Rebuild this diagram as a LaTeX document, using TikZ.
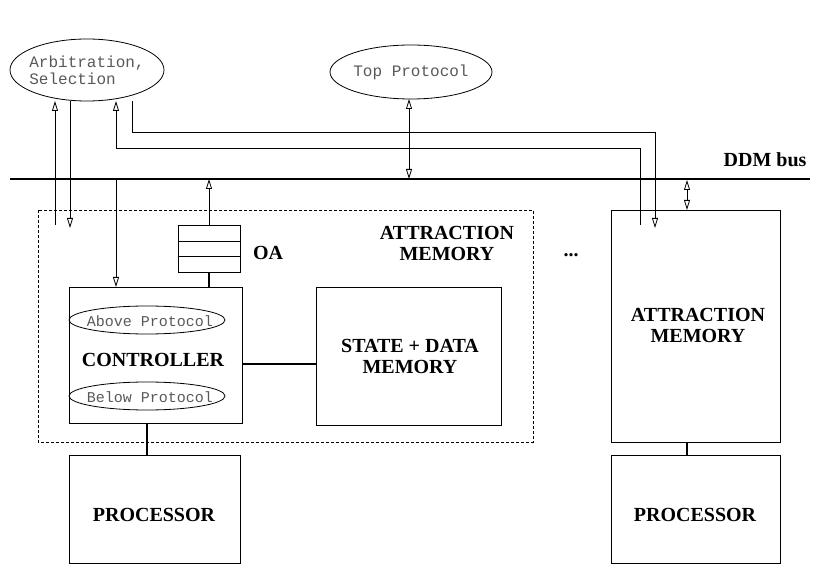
\documentclass[tikz,border=0pt]{standalone}
\usepackage{fontspec}
\setmainfont{Liberation Serif}
\setmonofont{Liberation Mono}
\usetikzlibrary{arrows.meta}

\begin{document}
\begin{tikzpicture}[%
      x=1pt, y=-1pt,
      lbl/.style={font=\fontsize{20}{21}\selectfont\bfseries, align=center},
      tt/.style={font=\fontsize{16}{17}\selectfont\ttfamily, text=black!65, align=left, inner sep=0pt},
      sig/.style={thick, -{Triangle[open,length=10pt,width=6pt]}},
      both/.style={thick, {Triangle[open,length=10pt,width=6pt]}-{Triangle[open,length=10pt,width=6pt]}},
      ]
      \useasboundingbox (0,0) rectangle (820,577);
      % bus
      \draw [line width=2.5pt] (10,179) coordinate (busL) -- (810,179) coordinate (busR);
      \node [lbl, anchor=east] (busname) at (810,160) {DDM bus};

      % protocol ellipses
      \draw [thick] (87,70) ellipse (77 and 31);
      \node [tt] (arb) at (87,70) {Arbitration,\\Selection};
      \draw [thick] (411,72) ellipse (81 and 27);
      \node [tt] (top) at (411,72) {Top Protocol};

      % attraction memory (left)
      \draw [thick, densely dashed] (38,210) rectangle (533,442);
      \node [lbl] (amname) at (447,243) {ATTRACTION\\MEMORY};
      \draw [thick] (178,225) rectangle (240,272);
      \draw [thick] (178,241) -- (240,241);
      \draw [thick] (178,256) -- (240,256);
      \coordinate (oatop) at (209,225);
      \coordinate (oabot) at (209,272);
      \node [lbl] (oa) at (268,253) {OA};

      \draw [thick] (69,287) rectangle (242,423);
      \coordinate (ctrltop) at (209,287);
      \draw [thick] (147,320) ellipse (78 and 14);
      \node [tt, font=\fontsize{15}{16}\selectfont\ttfamily] (above) at (150,321) {Above Protocol};
      \node [lbl] (ctrl) at (153,360) {CONTROLLER};
      \draw [thick] (147,396) ellipse (78 and 14);
      \node [tt, font=\fontsize{15}{16}\selectfont\ttfamily] (below) at (150,397) {Below Protocol};

      \draw [thick] (316,287) rectangle (501,425);
      \node [lbl] (state) at (410,356) {STATE + DATA\\MEMORY};
      \draw [line width=2pt] (242,364) -- (316,364);

      \draw [thick] (69,455) rectangle (240,563);
      \node [lbl] (proc1) at (154,515) {PROCESSOR};
      \draw [line width=2pt] (147,423) -- (147,455);

      \node [lbl] (dots) at (571,255) {...};

      % attraction memory (right)
      \draw [thick] (611,210) rectangle (780,442);
      \node [lbl] (am2) at (698,325) {ATTRACTION\\MEMORY};
      \draw [thick] (611,455) rectangle (780,563);
      \node [lbl] (proc2) at (695,515) {PROCESSOR};
      \draw [line width=1.5pt] (687,442) -- (687,455);

      % signals
      \draw [sig] (55,225) -- (55,101);
      \draw [sig] (70,101) -- (70,228);
      \draw [sig] (116,179) -- (116,287);
      \draw [sig] (oatop) -- (209,179);
      \draw [line width=2pt] (oabot) -- (ctrltop);
      \draw [sig] (640,225) -- (640,148) -- (116,148) -- (116,101);
      \draw [sig] (132,101) -- (132,132) -- (655,132) -- (655,228);
      \draw [both] (409,99) -- (409,179);
      \draw [both] (687,180) -- (687,210);
\end{tikzpicture}
\end{document}
